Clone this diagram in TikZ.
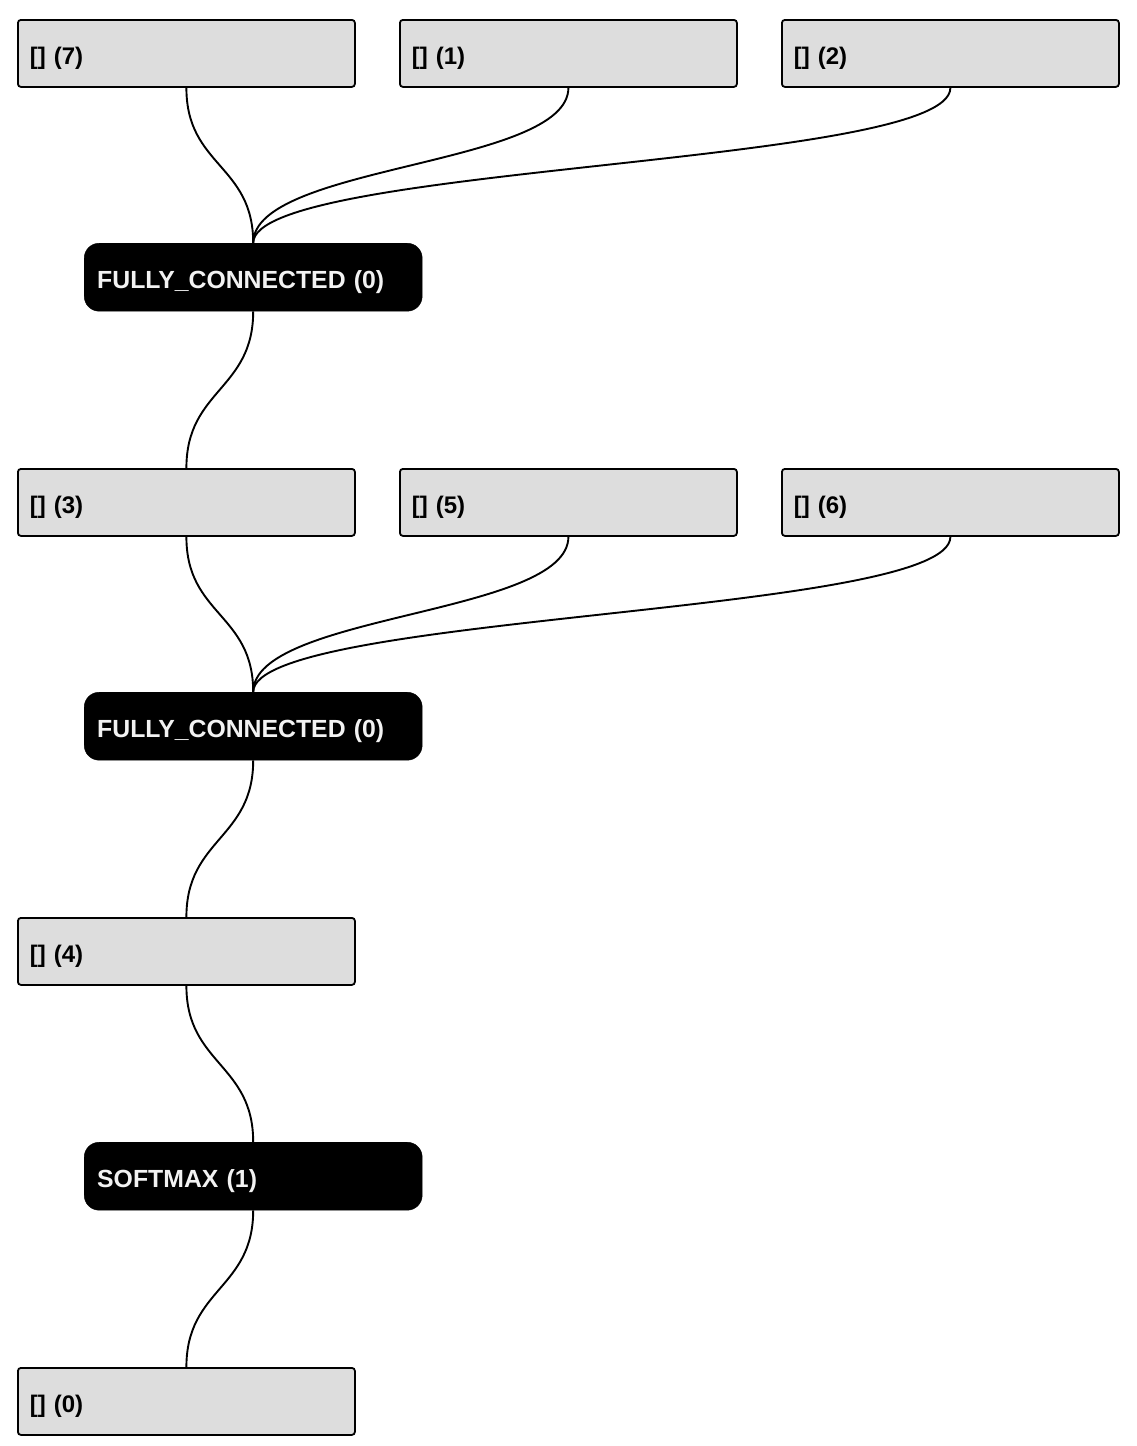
\documentclass[tikz,border=0pt]{standalone}
\usepackage{fontspec}
\setmainfont{Liberation Sans}
\begin{document}
\begin{tikzpicture}[x=1pt,y=-1pt,
  tensor/.style={draw=black, line width=1.8pt, fill=graybox, rounded corners=3pt,
    anchor=north west, minimum width=337pt, minimum height=67pt,
    text width=313pt, inner xsep=12pt, align=left, text height=23pt, text depth=0pt,
    font=\fontsize{24}{28}\selectfont\bfseries},
  op/.style={draw=black, fill=black, rounded corners=15pt, text=opwhite,
    anchor=north west, minimum width=338pt, minimum height=68pt,
    text width=312pt, inner xsep=13pt, align=left, text height=23.5pt, text depth=0pt,
    font=\fontsize{24.8}{28}\selectfont\bfseries},
  link/.style={draw=black, line width=1.9pt}]
\definecolor{graybox}{HTML}{DDDDDD}
\definecolor{opwhite}{HTML}{F2F2F2}
\useasboundingbox (0,0) rectangle (1136,1446);
\node[tensor] (g7) at (17,19) {[] (7)};
\node[tensor] (g1) at (399,19) {[] (1)};
\node[tensor] (g2) at (781,19) {[] (2)};
\node[op] (fc1) at (84,243) {FULLY\_CONNECTED (0)};
\node[tensor] (g3) at (17,468) {[] (3)};
\node[tensor] (g5) at (399,468) {[] (5)};
\node[tensor] (g6) at (781,468) {[] (6)};
\node[op] (fc2) at (84,692) {FULLY\_CONNECTED (0)};
\node[tensor] (g4) at (17,917) {[] (4)};
\node[op] (sm) at (84,1142) {SOFTMAX (1)};
\node[tensor] (g0) at (17,1367) {[] (0)};
\foreach \a/\b in {g7/fc1,g1/fc1,g2/fc1,fc1/g3,g3/fc2,g5/fc2,g6/fc2,fc2/g4,g4/sm,sm/g0}
  \draw[link] (\a.south) .. controls +(0,78.5) and +(0,-78.5) .. (\b.north);
\end{tikzpicture}
\end{document}
